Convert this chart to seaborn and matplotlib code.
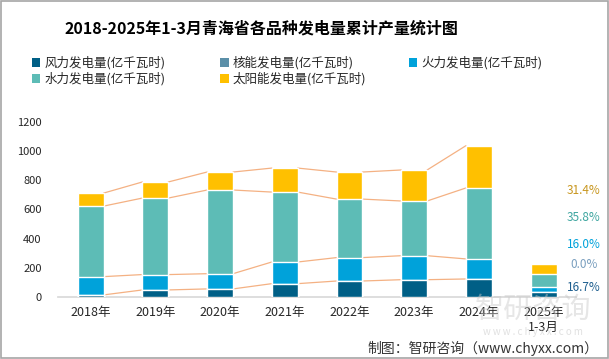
import matplotlib
matplotlib.use("Agg")
import matplotlib.pyplot as plt
import seaborn as sns
import numpy as np
import pandas as pd
from matplotlib.patches import Rectangle, Patch

# Data (亿千瓦时)
years = ['2018年', '2019年', '2020年', '2021年', '2022年', '2023年', '2024年', '2025年\n1-3月']
wind = [16, 50, 57, 93, 111, 120, 125, 38]
nuclear = [0, 0, 0, 0, 0, 0, 0, 0]
fire = [125, 105, 104, 148, 160, 164, 137, 35]
hydro = [482, 523, 572, 478, 400, 374, 485, 88]
solar = [89, 110, 123, 164, 185, 212, 289, 66]
growth = ['31.4%', '35.8%', '16.0%', '0.0%', '16.7%']

names = ['风力发电量(亿千瓦时)', '核能发电量(亿千瓦时)', '火力发电量(亿千瓦时)',
         '水力发电量(亿千瓦时)', '太阳能发电量(亿千瓦时)']
colors = ['#005F86', '#5B8FA8', '#00A2DA', '#5DBCB6', '#FFC000']
growth_colors = ['#C8961E', '#3FA6A0', '#00A2DA', '#7A9FBF', '#1F5F8F']

sns.set_theme(style='white')
plt.rcParams['font.family'] = ['Noto Sans CJK SC', 'DejaVu Sans']

df = pd.DataFrame({'year': years, 'wind': wind, 'nuclear': nuclear,
                   'fire': fire, 'hydro': hydro, 'solar': solar})
cols = ['wind', 'nuclear', 'fire', 'hydro', 'solar']
cum = df[cols].cumsum(axis=1)
cum['year'] = years

fig = plt.figure(figsize=(6.09, 3.59), dpi=100)
ax = fig.add_axes([0.0957, 0.172, 0.850, 0.489])

bw = 0.4
# stacked bars drawn as overlapping cumulative totals, top first
for c, col in zip(colors[::-1], cols[::-1]):
    sns.barplot(data=cum, x='year', y=col, color=c, width=bw, saturation=1,
                order=years, ax=ax, zorder=3)

# series lines between bars (2018-2024)
for col in ['wind', 'fire', 'hydro', 'solar']:
    tops = cum[col].values
    for i in range(6):
        ax.plot([i + bw / 2, i + 1 - bw / 2], [tops[i], tops[i + 1]],
                color='#F4B183', lw=0.9, zorder=2)

ax.set_ylim(0, 1200)
ax.set_xlim(-0.5, len(years) - 0.5)
ax.set_yticks(range(0, 1201, 200))
ax.set_xlabel('')
ax.set_ylabel('')
ax.tick_params(axis='y', labelsize=8, length=0, pad=12)
ax.tick_params(axis='x', labelsize=9, length=0, pad=6)
for s in ['top', 'right', 'left']:
    ax.spines[s].set_visible(False)
ax.spines['bottom'].set_color('#D9D9D9')

# growth labels at right
gy = [733, 548, 364, 227, 64]
for t, y, c in zip(growth, gy, growth_colors):
    ax.text(7.62, y, t, color=c, fontsize=8.5, ha='center', va='center', clip_on=False)

# title
fig.text(0.43, 0.92, '2018-2025年1-3月青海省各品种发电量累计产量统计图',
         ha='center', va='center', fontsize=11.5, fontweight='bold', color='black')

# legend: three fixed-width columns, row-major
handles = [Patch(facecolor=c, edgecolor='none') for c in colors]
legend_cols = [[0, 3], [1, 4], [2]]
col_x = [0.052, 0.361, 0.671]
for idx, x0 in zip(legend_cols, col_x):
    leg = fig.legend([handles[i] for i in idx], [names[i] for i in idx],
                     loc='upper left', bbox_to_anchor=(x0, 0.843),
                     frameon=False, fontsize=9, handlelength=0.7, handleheight=0.7,
                     handletextpad=0.3, labelspacing=0.2, borderpad=0, borderaxespad=0)

# watermark
fig.text(0.875, 0.138, '智研咨询', ha='center', va='center', fontsize=21,
         color='#C8C8C8', alpha=0.45)
fig.text(0.875, 0.075, 'w w w . c h y x x . c o m', ha='center', va='center',
         fontsize=7, color='#C8C8C8', alpha=0.55)

# source
fig.text(0.983, 0.03, '制图：智研咨询（www.chyxx.com）', ha='right', va='center',
         fontsize=10, color='#333333')

fig.patches.append(Rectangle((0.001, 0.002), 0.997, 0.995, transform=fig.transFigure,
                             fill=False, edgecolor='#A6A6A6', lw=1.2))

fig.savefig('out.png', dpi=100)
